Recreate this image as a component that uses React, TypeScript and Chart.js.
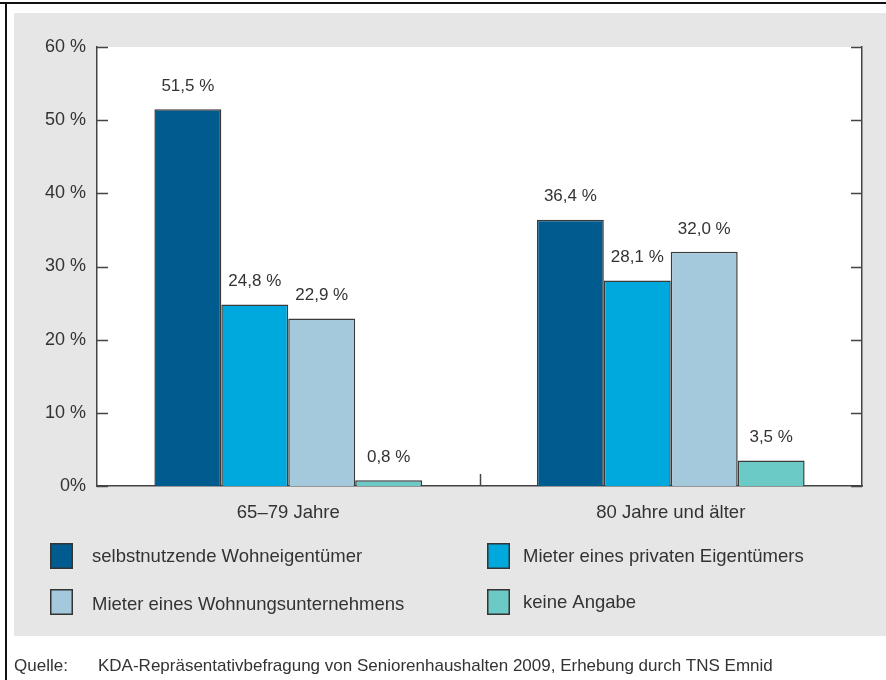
import React, { useEffect, useRef } from "react";
import { Chart, registerables } from "chart.js";

Chart.register(...registerables);

const categories = ["65–79 Jahre", "80 Jahre und älter"];
const seriesNames = [
  "selbstnutzende Wohneigentümer",
  "Mieter eines privaten Eigentümers",
  "Mieter eines Wohnungsunternehmens",
  "keine Angabe",
];
const ownerValues = [51.5, 36.4];
const privateRenterValues = [24.8, 28.1];
const companyRenterValues = [22.9, 32.0];
const noAnswerValues = [0.8, 3.5];
const seriesColors = ["#005b8e", "#00a9dd", "#a5c9dc", "#6bc9c6"];
const yTicks = [0, 10, 20, 30, 40, 50, 60];
const sourceLabel = "Quelle:";
const sourceText = "KDA-Repräsentativbefragung von Seniorenhaushalten 2009, Erhebung durch TNS Emnid";

const FONT = '"Liberation Sans", Arial, sans-serif';
const TEXT = "#333333";
const LINE = "#444444";

const fmt = (v: number) => v.toFixed(1).replace(".", ",") + " %";

const framePlugin = {
  id: "frame",
  beforeDraw(chart: any) {
    const { ctx, width, height, chartArea } = chart;
    ctx.save();
    ctx.fillStyle = "#ffffff";
    ctx.fillRect(0, 0, width, height);
    ctx.fillStyle = "#e6e6e6";
    ctx.fillRect(14, 13, width - 14, 636 - 13);
    ctx.fillStyle = "#111111";
    ctx.fillRect(0, 2, width, 2);
    ctx.fillRect(5, 2, 2, height - 2);
    ctx.fillStyle = "#ffffff";
    ctx.fillRect(chartArea.left, chartArea.top, chartArea.right - chartArea.left, chartArea.bottom - chartArea.top);
    ctx.restore();
  },
  afterDraw(chart: any) {
    const { ctx, chartArea, scales } = chart;
    const y = scales.y;
    const x = scales.x;
    ctx.save();
    ctx.strokeStyle = LINE;
    ctx.lineWidth = 1.5;
    ctx.beginPath();
    yTicks.forEach((t) => {
      const py = Math.round(y.getPixelForValue(t)) + 0.5;
      ctx.moveTo(chartArea.left, py);
      ctx.lineTo(chartArea.left + 11, py);
      ctx.moveTo(chartArea.right, py);
      ctx.lineTo(chartArea.right - 11, py);
    });
    for (let i = 0; i < categories.length - 1; i++) {
      const px = Math.round((x.getPixelForValue(i) + x.getPixelForValue(i + 1)) / 2) + 0.5;
      ctx.moveTo(px, chartArea.bottom);
      ctx.lineTo(px, chartArea.bottom - 12);
    }
    ctx.stroke();

    // legend
    ctx.font = `18.5px ${FONT}`;
    ctx.textBaseline = "middle";
    ctx.textAlign = "left";
    const cols = [50, 487];
    const textCols = [92, 523];
    const rows = [543, 589];
    const order = [0, 1, 2, 3];
    order.forEach((di, k) => {
      const ds = chart.data.datasets[di];
      const c = k % 2;
      const r = Math.floor(k / 2);
      ctx.fillStyle = ds.backgroundColor;
      ctx.fillRect(cols[c], rows[r], 23, 26);
      ctx.strokeStyle = "#333333";
      ctx.lineWidth = 1.5;
      ctx.strokeRect(cols[c] + 0.75, rows[r] + 0.75, 21.5, 24.5);
      ctx.fillStyle = TEXT;
      ctx.fillText(ds.label, textCols[c], rows[r] + 14 + (r === 1 && c === 0 ? 2 : 0));
    });

    // source
    ctx.font = `17px ${FONT}`;
    ctx.fillStyle = TEXT;
    ctx.fillText(sourceLabel, 14, 666);
    ctx.fillText(sourceText, 98, 666);
    ctx.restore();
  },
  afterDatasetsDraw(chart: any) {
    const { ctx } = chart;
    ctx.save();
    ctx.font = `17px ${FONT}`;
    ctx.fillStyle = TEXT;
    ctx.textAlign = "center";
    ctx.textBaseline = "middle";
    chart.data.datasets.forEach((ds: any, di: number) => {
      const meta = chart.getDatasetMeta(di);
      meta.data.forEach((el: any, i: number) => {
        ctx.fillText(fmt(ds.data[i]), el.x, el.y - 23);
      });
    });
    ctx.restore();
  },
};

export default function App() {
  const ref = useRef<HTMLCanvasElement>(null);
  useEffect(() => {
    if (!ref.current) return;
    const values = [ownerValues, privateRenterValues, companyRenterValues, noAnswerValues];
    const chart = new Chart(ref.current, {
      type: "bar",
      data: {
        labels: categories,
        datasets: seriesNames.map((name, i) => ({
          label: name,
          data: values[i],
          backgroundColor: seriesColors[i],
          borderColor: "#3a3a3a",
          borderWidth: 1.5,
          categoryPercentage: 0.7,
          barPercentage: 1.0,
        })),
      },
      options: {
        animation: false,
        responsive: false,
        devicePixelRatio: 1,
        layout: { padding: { left: 0, right: 0, top: 47, bottom: 0 } },
        plugins: { legend: { display: false }, tooltip: { enabled: false } },
        scales: {
          x: {
            grid: { display: false, drawTicks: false },
            border: { display: true, color: LINE, width: 1.5 },
            ticks: { color: TEXT, font: { family: FONT, size: 18.5 }, padding: 16 },
            afterFit: (s: any) => {
              s.height = 194;
            },
          },
          y: {
            position: "left",
            min: 0,
            max: 60,
            grid: { display: false, drawTicks: false },
            border: { display: true, color: LINE, width: 1.5 },
            ticks: {
              stepSize: 10,
              color: TEXT,
              font: { family: FONT, size: 18 },
              padding: 11,
              callback: (v: any) => (v === 0 ? "0%" : `${v} %`),
            },
            afterFit: (s: any) => {
              s.width = 97;
            },
          },
          y2: {
            position: "right",
            min: 0,
            max: 60,
            grid: { display: false, drawTicks: false },
            border: { display: true, color: LINE, width: 1.5 },
            ticks: { display: false },
            afterFit: (s: any) => {
              s.width = 24;
            },
          },
        },
      },
      plugins: [framePlugin],
    });
    return () => chart.destroy();
  }, []);
  return (
    <div style={{ position: "fixed", left: 0, top: 0, width: 886, height: 680 }}>
      <canvas ref={ref} width={886} height={680} style={{ display: "block", width: 886, height: 680 }} />
    </div>
  );
}
